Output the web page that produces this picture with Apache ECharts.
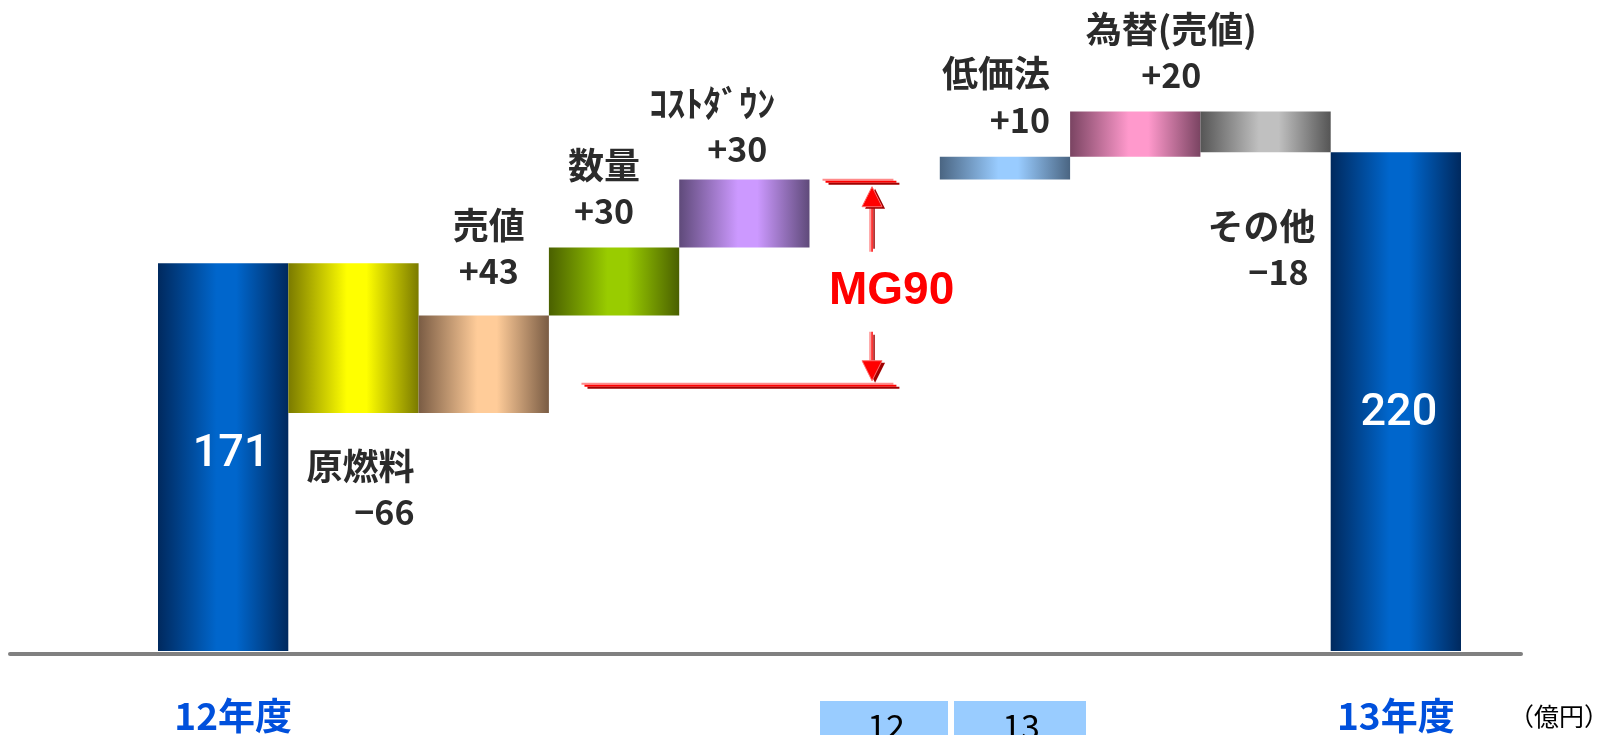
<!DOCTYPE html>
<html>
<head>
<meta charset="utf-8">
<title>営業利益増減要因</title>
<script src="https://cdn.jsdelivr.net/npm/echarts@6/dist/echarts.min.js"></script>
<style>
  html, body { margin: 0; padding: 0; background: #ffffff; }
  #chart { width: 1617px; height: 735px; }
</style>
</head>
<body>
<div id="chart"></div>
<script>
// ---- data (億円) ----
const categories = ['12年度', '原燃料', '売値', '数量', 'ｺｽﾄﾀﾞｳﾝ', '', '低価法', '為替(売値)', 'その他', '13年度'];
const values     = [171, -66, 43, 30, 30, null, 10, 20, -18, 220];
const isTotal    = [true, false, false, false, false, false, false, false, false, true];
const mgBounds   = [117, 207];          // margin bracket: lower / upper level
const yearBoxLabels = ['12', '13'];
const unitLabel  = '（億円）';

// ---- styles ----
const barColors = [
  ['#00295e', '#0066cc'],   // 12年度
  ['#7a7a00', '#ffff00'],   // 原燃料
  ['#7a5c44', '#ffcc99'],   // 売値
  ['#4a6000', '#99cc00'],   // 数量
  ['#5f4a7a', '#cc99ff'],   // コストダウン
  null,
  ['#4a6582', '#99ccff'],   // 低価法
  ['#7a4462', '#ff99cc'],   // 為替
  ['#555555', '#c0c0c0'],   // その他
  ['#00295e', '#0066cc']    // 13年度
];
const labelLayout = {
  1: { pos: 'bottom', dx: 7,   dy: 25,   right: true },
  2: { pos: 'top',    dx: 5,   dy: -16,  right: false },
  3: { pos: 'top',    dx: -10, dy: -8,   right: false },
  4: { pos: 'top',    dx: -32, dy: -2,   right: true, pad: 8 },
  6: { pos: 'top',    dx: -9,  dy: -9,   right: true },
  7: { pos: 'top',    dx: 36,  dy: -8,   right: false },
  8: { pos: 'bottom', dx: -4,  dy: 46,   right: true, pad: 7 }
};
const totalLabelOffset = { 0: [8, -2], 9: [3, 12] };
const FONT_JP = "'Noto Sans CJK JP', 'Noto Sans', sans-serif";

function cylinder(c) {
  return {
    type: 'linear', x: 0, y: 0, x2: 1, y2: 0,
    colorStops: [
      { offset: 0, color: c[0] },
      { offset: 0.45, color: c[1] },
      { offset: 0.6, color: c[1] },
      { offset: 1, color: c[0] }
    ]
  };
}

// ---- waterfall: invisible base + visible body ----
const base = [], body = [];
let running = 0;
values.forEach((v, i) => {
  if (v === null) { base.push('-'); body.push('-'); return; }
  if (isTotal[i]) { base.push(0); body.push(v); running = v; return; }
  base.push(Math.min(running, running + v));
  body.push(Math.abs(v));
  running += v;
});

function stepText(v) {
  return (v > 0 ? '+' : '\u2212') + Math.abs(v);
}

const bodyData = body.map((h, i) => {
  if (h === '-') return '-';
  const item = { value: h, itemStyle: { color: cylinder(barColors[i]) } };
  if (isTotal[i]) {
    item.label = {
      show: true, position: 'inside', offset: totalLabelOffset[i],
      color: '#ffffff', fontSize: 45, fontWeight: 500,
      fontFamily: "Roboto, 'Liberation Sans', Arial, sans-serif",
      formatter: String(values[i])
    };
  } else {
    const L = labelLayout[i];
    const nKey = L.right ? 'nr' : 'n';
    const vKey = L.right ? (L.pad ? 'vr' + L.pad : 'vr') : 'v';
    item.label = {
      show: true, position: L.pos, offset: [L.dx, L.dy],
      formatter: '{' + nKey + '|' + categories[i] + '}\n{' + vKey + '|' + stepText(values[i]) + '}'
    };
  }
  return item;
});

const nameStyle = { fontSize: 36, fontWeight: 'bold', lineHeight: 46, color: '#2b2b2b', fontFamily: FONT_JP };
const valStyle  = { fontSize: 34, fontWeight: 'bold', lineHeight: 46, color: '#2b2b2b', fontFamily: FONT_JP };

// ---- margin bracket (two levels, arrows and caption) ----
function tripleLine(x1, x2, y) {
  return [
    { type: 'line', shape: { x1: x1, y1: y - 2, x2: x2 - 6, y2: y - 2 }, style: { stroke: '#ff8a8a', lineWidth: 2 } },
    { type: 'line', shape: { x1: x1 + 3, y1: y, x2: x2 - 3, y2: y }, style: { stroke: '#ff0000', lineWidth: 2 } },
    { type: 'line', shape: { x1: x1 + 6, y1: y + 2, x2: x2, y2: y + 2 }, style: { stroke: '#a00000', lineWidth: 2 } }
  ];
}
function arrow(x, yTail, yTip) {
  const dir = yTip < yTail ? -1 : 1;
  const headLen = 20, half = 10;
  const yBase = yTip - dir * headLen;
  return [
    { type: 'line', shape: { x1: x - 2, y1: yTail, x2: x - 2, y2: yBase }, style: { stroke: '#ff8a8a', lineWidth: 1.5 } },
    { type: 'line', shape: { x1: x, y1: yTail, x2: x, y2: yBase }, style: { stroke: '#ff0000', lineWidth: 1.5 } },
    { type: 'line', shape: { x1: x + 2, y1: yTail + dir * 3, x2: x + 2, y2: yBase }, style: { stroke: '#a00000', lineWidth: 1.5 } },
    { type: 'polygon', shape: { points: [[x - half + 3, yBase + 2], [x + 3, yTip + 2], [x + half + 3, yBase + 2]] }, style: { fill: '#a00000' } },
    { type: 'polygon', shape: { points: [[x - half, yBase], [x, yTip], [x + half, yBase]] }, style: { fill: '#ff0000', stroke: '#ff6b6b', lineWidth: 1 } }
  ];
}
function renderBracket(params, api) {
  const bw = api.size([1, 0])[0];
  const lowPt = api.coord([api.value(0), api.value(1)]);
  const highPt = api.coord([api.value(0), api.value(2)]);
  const cx = lowPt[0], yLo = lowPt[1], yHi = highPt[1];
  const margin = api.value(2) - api.value(1);
  const children = []
    .concat(tripleLine(cx - 2.25 * bw, cx + 0.19 * bw, yLo))
    .concat(tripleLine(cx - 0.40 * bw, cx + 0.19 * bw, yHi))
    .concat(arrow(cx - 0.02 * bw, yHi + 70, yHi + 5))
    .concat(arrow(cx - 0.02 * bw, yLo - 54, yLo - 5));
  children.push({
    type: 'text', x: cx + 0.13 * bw, y: (yLo + yHi) / 2 + 8,
    style: {
      text: 'MG' + margin, fill: '#ff0000', align: 'center', verticalAlign: 'middle',
      font: "bold 46px 'Liberation Sans', Arial, sans-serif"
    }
  });
  return { type: 'group', children: children };
}

const chart = echarts.init(document.getElementById('chart'), null, { renderer: 'canvas' });
chart.setOption({
  animation: false,
  backgroundColor: '#ffffff',
  grid: [
    { left: 158, right: 156, top: 16.2, bottom: 84 },
    { left: 10, right: 96, bottom: 81, height: 1 }
  ],
  xAxis: [
    {
      type: 'category', gridIndex: 0, data: categories,
      axisLine: { show: false }, axisTick: { show: false },
      axisLabel: {
        interval: 0, margin: 46, color: '#0050dc', fontSize: 37, fontWeight: 'bold', fontFamily: FONT_JP,
        formatter: (v, i) => (isTotal[i] ? (i === 0 ? '{first|' + v + '}' : v) : ''),
        rich: {
          first: { fontSize: 37, fontWeight: 'bold', color: '#0050dc', fontFamily: FONT_JP, padding: [0, 0, 0, 20] }
        }
      }
    },
    {
      type: 'value', gridIndex: 1, min: 0, max: 1,
      axisLine: { show: true, lineStyle: { color: '#808080', width: 4 } },
      axisTick: { show: false }, axisLabel: { show: false }, splitLine: { show: false }
    }
  ],
  yAxis: [
    { type: 'value', gridIndex: 0, min: 0, max: 280, show: false, splitLine: { show: false } },
    { type: 'value', gridIndex: 1, show: false }
  ],
  series: [
    {
      name: 'base', type: 'bar', stack: 'wf', data: base, barCategoryGap: '0%',
      itemStyle: { color: 'rgba(0,0,0,0)' }, silent: true
    },
    {
      name: 'change', type: 'bar', stack: 'wf', data: bodyData, barCategoryGap: '0%',
      label: {
        rich: {
          n: nameStyle,
          v: valStyle,
          nr: Object.assign({}, nameStyle, { align: 'right' }),
          vr: Object.assign({}, valStyle, { align: 'right' }),
          vr7: Object.assign({}, valStyle, { align: 'right', padding: [0, 7, 0, 0] }),
          vr8: Object.assign({}, valStyle, { align: 'right', padding: [0, 8, 0, 0] })
        }
      }
    },
    {
      name: 'margin', type: 'custom', clip: false, silent: true,
      xAxisIndex: 0, yAxisIndex: 0,
      encode: { x: 0, y: [1, 2] },
      data: [[5, mgBounds[0], mgBounds[1]]],
      renderItem: renderBracket, z: 5
    }
  ],
  graphic: [
    { type: 'rect', shape: { x: 820, y: 701, width: 128, height: 40 }, style: { fill: '#99ccff' } },
    { type: 'rect', shape: { x: 954, y: 701, width: 132, height: 40 }, style: { fill: '#99ccff' } },
    { type: 'text', x: 886, y: 726, style: { text: yearBoxLabels[0], fill: '#000000', align: 'center', verticalAlign: 'middle', font: "34px 'Noto Sans CJK JP', sans-serif" } },
    { type: 'text', x: 1021, y: 726, style: { text: yearBoxLabels[1], fill: '#000000', align: 'center', verticalAlign: 'middle', font: "34px 'Noto Sans CJK JP', sans-serif" } },
    { type: 'text', x: 1559, y: 716, style: { text: unitLabel, fill: '#000000', align: 'center', verticalAlign: 'middle', font: "25px 'Noto Sans CJK JP', sans-serif" } }
  ]
});
</script>
</body>
</html>
